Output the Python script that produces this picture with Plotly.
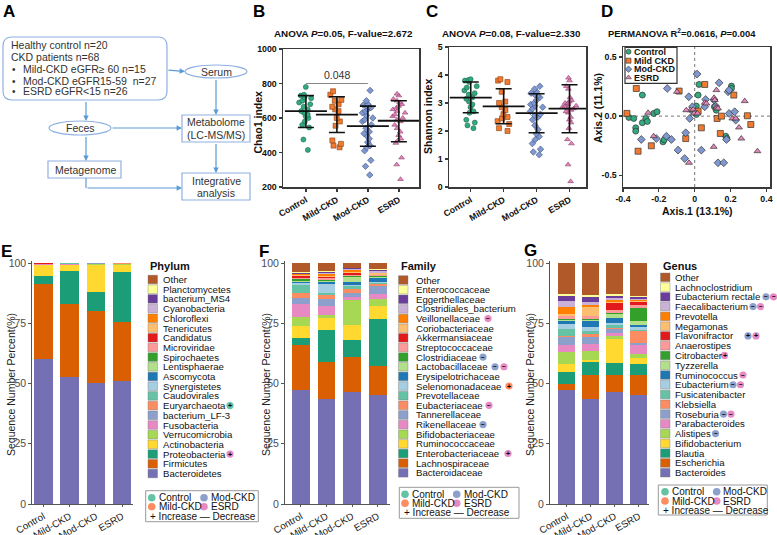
import plotly.graph_objects as go

W, H = 777, 535
FONT = "Liberation Sans, Arial, sans-serif"

groups = ["Control", "Mild-CKD", "Mod-CKD", "ESRD"]
grp_colors = ["#33a97f", "#f07a30", "#7f98cf", "#e585bb"]
grp_lines = ["#1d6b4f", "#8a3f10", "#3d4f80", "#8a3d68"]
grp_symbols = ["circle", "square", "diamond", "triangle-up"]
legend_grp_colors = ["#66c2a5", "#fc8d62", "#8da0cb", "#e78ac3"]

# ---- Panel B: Chao1 ----
chao1_control = [780, 735, 730, 720, 715, 700, 690, 680, 665, 650, 640, 630, 620, 610, 600, 580, 560, 545, 475, 415]
chao1_mild = [755, 735, 705, 700, 680, 665, 650, 640, 600, 580, 555, 470, 450, 440, 430]
chao1_mod = [760, 700, 680, 675, 670, 665, 660, 650, 640, 630, 615, 600, 590, 580, 560, 540, 520, 510, 500, 480,
             460, 440, 430, 410, 355, 320, 270]
chao1_esrd = [740, 730, 710, 700, 690, 680, 670, 660, 650, 640, 630, 620, 610, 600, 590, 580, 560, 540, 520, 500,
              480, 470, 455, 370, 330, 245]
chao1_mean = [640, 620, 553, 584]
chao1_sd_lo = [545, 516, 436, 462]
chao1_sd_hi = [730, 723, 669, 700]

# ---- Panel C: Shannon ----
shannon_control = [3.85, 3.82, 3.8, 3.75, 3.6, 3.55, 3.45, 3.35, 3.3, 3.2, 3.15, 3.05, 2.95, 2.85, 2.7, 2.65, 2.4, 2.3,
                   2.2, 2.1]
shannon_mild = [3.85, 3.8, 3.75, 3.4, 3.05, 3.0, 2.85, 2.75, 2.6, 2.5, 2.45, 2.35, 2.25, 2.1, 2.0]
shannon_mod = [3.6, 3.5, 3.4, 3.35, 3.3, 3.25, 3.2, 3.1, 3.0, 2.95, 2.9, 2.85, 2.8, 2.7, 2.6, 2.55, 2.5, 2.4, 2.2, 2.05,
               1.9, 1.8, 1.7, 1.55, 1.35, 1.25, 1.15]
shannon_esrd = [3.9, 3.8, 3.6, 3.5, 3.2, 3.1, 3.05, 3.0, 3.0, 2.95, 2.9, 2.9, 2.85, 2.8, 2.8, 2.75, 2.7, 2.65, 2.5, 2.4,
                2.3, 2.1, 1.7, 1.55, 0.8, 0.2]
shannon_mean = [3.19, 2.88, 2.64, 2.80]
shannon_sd_lo = [2.65, 2.26, 1.94, 1.94]
shannon_sd_hi = [3.75, 3.51, 3.33, 3.65]

# ---- Panel D: PCoA ----
pcoa_control_x = [-0.367, -0.34, -0.329, -0.329, -0.292, -0.273, -0.264, -0.229, -0.21, -0.292, -0.177, -0.17, 0.009,
                  0.009, 0.019, 0.024, 0.11, 0.12, 0.173, 0.205, 0.205, 0.18]
pcoa_control_y = [-0.011, -0.02, -0.099, -0.127, -0.056, -0.02, -0.045, 0.023, 0.037, 0.178, -0.218, -0.2, 0.014,
                  0.085, 0.178, 0.268, 0.079, 0.05, -0.17, 0.254, 0.234, -0.19]
pcoa_mild_x = [-0.378, -0.326, -0.316, -0.242, -0.087, -0.05, 0.019, 0.037, 0.056, 0.125, 0.143, 0.149, 0.218, 0.294,
               0.313]
pcoa_mild_y = [0.023, 0.234, -0.297, -0.251, 0.212, -0.19, 0.042, -0.099, 0.268, -0.02, -0.147, 0.0, 0.178, 0.003,
               -0.071]
pcoa_mod_x = [-0.298, -0.214, -0.153, -0.158, -0.13, -0.093, -0.056, -0.033, -0.028, -0.05, -0.013, -0.009, 0.013,
              0.037, 0.056, 0.061, 0.108, 0.117, 0.13, 0.136, 0.162, 0.177, 0.186, 0.192, 0.192, 0.223, 0.229]
pcoa_mod_y = [-0.198, -0.19, 0.234, -0.17, -0.198, -0.288, -0.359, 0.164, -0.02, -0.141, 0.079, 0.037, 0.356, -0.288,
              0.079, 0.141, 0.136, 0.085, -0.395, 0.282, -0.395, -0.198, 0.206, 0.22, 0.023, 0.037, -0.034]
pcoa_esrd_x = [-0.26, -0.229, -0.099, -0.032, -0.024, -0.009, -0.004, 0.015, 0.056, 0.106, 0.108, 0.112, 0.121, 0.121,
               0.121, 0.13, 0.21, 0.229, 0.247, 0.26, 0.279, 0.35, -0.047, 0.065]
pcoa_esrd_y = [0.028, -0.17, 0.206, -0.395, 0.05, 0.056, 0.023, 0.023, 0.113, -0.26, 0.155, 0.136, 0.22, 0.079, 0.065,
               0.065, -0.02, -0.02, -0.096, -0.19, 0.127, -0.297, 0.05, 0.107]

# ---- Panels E/F/G: composition (bottom -> top) ----
palette = ['#7570b3', '#d95f02', '#1b9e77', '#ffd92f', '#a6d854', '#e78ac3', '#8da0cb', '#fc8d62', '#66c2a5',
           '#a6cee3', '#1f78b4', '#b2df8a', '#33a02c', '#fb9a99', '#e31a1c', '#fdbf6f', '#ff7f00', '#cab2d6',
           '#6a3d9a', '#ffff99', '#b15928']

phylum_names = ["Bacteroidetes", "Firmicutes", "Proteobacteria", "Actinobacteria", "Verrucomicrobia", "Fusobacteria",
                "bacterium_LF-3", "Euryarchaeota", "Caudovirales", "Synergistetes", "Ascomycota", "Lentisphaerae",
                "Spirochaetes", "Microviridae", "Candidatus", "Tenericutes", "Chloroflexi", "Cyanobacteria",
                "bacterium_MS4", "Planctomycetes", "Other"]
phylum_control = [60.1, 31.0, 3.7, 4.2, 0.25, 0.2, 0.1, 0.08, 0.05, 0.02, 0.02, 0.02, 0.02, 0.02, 0.02, 0.03, 0.02,
                  0.1, 0.03, 0.01, 0.05]
phylum_mild = [52.6, 30.4, 13.5, 2.6, 0.1, 0.5, 0.05, 0.03, 0.02, 0.02, 0.02, 0.02, 0.02, 0.02, 0.02, 0.02, 0.02, 0.1,
               0.03, 0.01, 0.05]
phylum_mod = [50.4, 29.5, 7.9, 11.2, 0.6, 0.15, 0.05, 0.02, 0.02, 0.02, 0.02, 0.02, 0.02, 0.02, 0.02, 0.02, 0.02, 0.05,
              0.02, 0.01, 0.05]
phylum_esrd = [51.1, 24.6, 20.5, 3.1, 0.1, 0.3, 0.05, 0.05, 0.02, 0.02, 0.02, 0.02, 0.02, 0.02, 0.02, 0.02, 0.02, 0.1,
               0.03, 0.01, 0.05]

family_names = ["Bacteroidaceae", "Lachnospiraceae", "Enterobacteriaceae", "Ruminococcaceae", "Bifidobacteriaceae",
                "Rikenellaceae", "Tannerellaceae", "Eubacteriaceae", "Prevotellaceae", "Selenomonadaceae",
                "Erysipelotrichaceae", "Lactobacillaceae", "Clostridiaceae", "Streptococcaceae", "Akkermansiaceae",
                "Coriobacteriaceae", "Veillonellaceae", "Clostridiales_bacterium", "Eggerthellaceae",
                "Enterococcaceae", "Other"]
family_control = [47.5, 18.4, 3.0, 5.0, 3.6, 5.3, 2.5, 2.2, 3.3, 0.7, 0.8, 0.4, 0.7, 0.5, 0.7, 0.4, 0.3, 0.3, 0.3, 0.2,
                  3.9]
family_mild = [43.5, 15.5, 13.0, 5.2, 1.2, 3.6, 3.2, 1.4, 1.0, 3.8, 0.8, 0.4, 0.5, 0.6, 0.6, 0.5, 0.5, 0.5, 0.6, 0.3,
               3.3]
family_mod = [46.5, 14.3, 7.2, 6.2, 10.6, 1.1, 1.7, 1.8, 0.9, 0.5, 1.3, 2.0, 0.4, 0.4, 1.0, 0.4, 0.9, 0.4, 0.3, 0.2,
              1.9]
family_esrd = [45.2, 12.0, 19.7, 5.1, 3.0, 2.0, 3.3, 1.1, 0.4, 0.4, 1.7, 0.3, 0.3, 0.5, 0.2, 0.5, 0.3, 0.6, 0.4, 0.4,
               2.6]

genus_names = ["Bacteroides", "Escherichia", "Blautia", "Bifidobacterium", "Alistipes", "Parabacteroides", "Roseburia",
               "Klebsiella", "Fusicatenibacter", "Eubacterium", "Ruminococcus", "Tyzzerella", "Citrobacter",
               "Anaerostipes", "Flavonifractor", "Megamonas", "Prevotella", "Faecalibacterium", "Eubacterium rectale",
               "Lachnoclostridium", "Other"]
genus_control = [47.5, 2.2, 5.1, 3.4, 4.8, 2.8, 3.4, 0.7, 2.8, 2.1, 1.1, 0.5, 0.3, 1.1, 0.3, 0.8, 2.8, 2.4, 2.4, 0.7,
                 12.8]
genus_mild = [43.5, 10.0, 5.4, 1.0, 3.5, 3.1, 2.7, 1.4, 1.1, 1.7, 2.5, 0.5, 0.3, 1.1, 0.4, 3.5, 0.9, 1.1, 2.1, 1.0,
              13.2]
genus_mod = [46.5, 6.9, 5.1, 10.1, 1.0, 1.5, 1.4, 0.5, 1.4, 0.8, 2.0, 1.8, 0.3, 1.0, 3.0, 0.7, 0.7, 0.7, 0.8, 1.0,
             12.8]
genus_esrd = [45.1, 8.3, 4.5, 2.5, 2.0, 3.5, 0.8, 4.9, 0.8, 1.0, 0.9, 1.8, 5.2, 1.1, 1.6, 0.3, 0.3, 0.5, 0.6, 0.8,
              13.5]

# significance markers: (legend row from top, x pixel, group index, sign)
phylum_sig = [(13, 230, 0, "+"), (18, 230, 3, "+")]
family_sig = [(4, 488, 3, "−"), (8, 483, 2, "−"), (9, 495, 2, "−"), (9, 504, 3, "−"), (11, 509, 1, "+"),
              (13, 489, 3, "−"), (15, 483, 2, "−"), (18, 508, 3, "+")]
genus_sig = [(2, 766, 2, "−"), (2, 773.5, 3, "−"), (3, 753, 2, "−"), (3, 760.5, 3, "−"), (6, 748, 2, "+"),
             (6, 756, 3, "+"), (8, 724.5, 3, "+"), (10, 743, 3, "−"), (11, 733, 2, "−"), (11, 740.5, 3, "−"),
             (14, 723.5, 2, "−"), (14, 731, 3, "−"), (16, 715.5, 2, "−")]


def dx(a, b):
    return [a / W, b / W]


def dy(top, bottom):
    return [1 - bottom / H, 1 - top / H]


fig = go.Figure()
annotations = []
shapes = []


def txt(x, y, s, size=10, anchor="left", color="#222", angle=0, yanchor="middle", weight="normal"):
    annotations.append(dict(x=x, y=y, xref="x9", yref="y9", text=s, showarrow=False, xanchor=anchor,
                            yanchor=yanchor, textangle=angle,
                            font=dict(size=size, family=FONT, color=color, weight=weight)))


# ---------------- Panel A: flowchart ----------------
BOXC = "#8fb0e0"
ARC = "#5b9bd5"


def rrect(x0, y0, x1, y1, r):
    p = (f"M{x0 + r},{y0} L{x1 - r},{y0} Q{x1},{y0} {x1},{y0 + r} L{x1},{y1 - r} Q{x1},{y1} {x1 - r},{y1} "
         f"L{x0 + r},{y1} Q{x0},{y1} {x0},{y1 - r} L{x0},{y0 + r} Q{x0},{y0} {x0 + r},{y0} Z")
    shapes.append(dict(type="path", path=p, xref="x9", yref="y9", line=dict(color=BOXC, width=1.2)))


rrect(3, 37, 167, 100, 9)
shapes.append(dict(type="circle", xref="x9", yref="y9", x0=185, x1=247, y0=65, y1=78, line=dict(color=BOXC, width=1.2)))
shapes.append(dict(type="circle", xref="x9", yref="y9", x0=49, x1=111, y0=121, y1=135, line=dict(color=BOXC, width=1.2)))
for (x0, y0, x1, y1) in [(182, 115, 250, 142), (48, 161, 121, 178), (182, 173, 250, 200)]:
    shapes.append(dict(type="rect", xref="x9", yref="y9", x0=x0, x1=x1, y0=y0, y1=y1, line=dict(color=BOXC, width=1.2)))
shapes.append(dict(type="line", xref="x9", yref="y9", x0=86, x1=86, y0=178, y1=188, line=dict(color=ARC, width=1.2)))


def arrow(tx, ty, hx, hy):
    annotations.append(dict(x=hx, y=hy, ax=tx, ay=ty, xref="x9", yref="y9", axref="x9", ayref="y9", text=" ",
                            showarrow=True, arrowhead=2, arrowsize=0.9, arrowwidth=1.2, arrowcolor=ARC, standoff=0,
                            font=dict(size=1)))


arrow(167, 70, 185, 71.5)
arrow(216, 78, 216, 115)
arrow(86, 100, 86, 121)
arrow(111, 128, 182, 128)
arrow(86, 135, 86, 161)
arrow(86, 188, 182, 188)
arrow(216, 142, 216, 173)

txt(9, 45, "Healthy control n=20", 10.5, color="#333")
txt(9, 57, "CKD patients n=68", 10.5, color="#333")
for yy, s in [(69, "Mild-CKD eGFR≥ 60 n=15"), (81, "Mod-CKD eGFR15-59\u00a0\u00a0n=27"), (91, "ESRD eGFR&lt;15 n=26")]:
    txt(10, yy, "•", 10, color="#333")
    txt(21, yy, s, 10.5, color="#333")
txt(216, 71.5, "Serum", 10.5, "center", "#333")
txt(80, 128, "Feces", 10.5, "center", "#333")
txt(216, 122, "Metabolome", 10.5, "center", "#333")
txt(216, 135, "(LC-MS/MS)", 10.5, "center", "#333")
txt(85, 169.5, "Metagenome", 10.5, "center", "#333")
txt(216, 181, "Integrative", 10.5, "center", "#333")
txt(216, 193, "analysis", 10.5, "center", "#333")

# panel letters
for (lx, ly, L) in [(9, 11, "A"), (259, 11, "B"), (432, 11, "C"), (607, 11, "D"), (6, 251, "E"), (264, 251, "F"),
                    (530, 250, "G")]:
    txt(lx, ly, L, 17, "center", "#000", weight="bold")

# ---------------- Panels B and C ----------------
def dot_panel(ax, datasets, means, lo, hi):
    for i, vals in enumerate(datasets):
        fig.add_trace(go.Box(x=[groups[i]] * len(vals), y=vals, xaxis="x" + ax, yaxis="y" + ax,
                             boxpoints="all", jitter=1.0, pointpos=0, width=0.45,
                             fillcolor="rgba(0,0,0,0)", line=dict(width=0, color="rgba(0,0,0,0)"),
                             marker=dict(color=grp_colors[i], symbol=grp_symbols[i], size=5,
                                         line=dict(width=0.6, color=grp_lines[i])),
                             showlegend=False, hoverinfo="skip"))
    fig.add_trace(go.Scatter(x=groups, y=means, mode="markers", xaxis="x" + ax, yaxis="y" + ax,
                             marker=dict(symbol="line-ew", size=30, line=dict(width=1.8, color="#111")),
                             error_y=dict(type="data", symmetric=False,
                                          array=[h - m for h, m in zip(hi, means)],
                                          arrayminus=[m - l for m, l in zip(means, lo)],
                                          width=8, thickness=1.6, color="#111"),
                             showlegend=False, hoverinfo="skip"))


dot_panel("2", [chao1_control, chao1_mild, chao1_mod, chao1_esrd], chao1_mean, chao1_sd_lo, chao1_sd_hi)
dot_panel("3", [shannon_control, shannon_mild, shannon_mod, shannon_esrd], shannon_mean, shannon_sd_lo, shannon_sd_hi)

shapes.append(dict(type="line", xref="x2", yref="y2", x0=0, x1=2, y0=800, y1=800, line=dict(color="#888", width=1)))
annotations.append(dict(x=1, y=800, xref="x2", yref="y2", text="0.048", showarrow=False, yanchor="bottom", yshift=1,
                        font=dict(size=10.5, family=FONT, color="#333")))

txt(343, 33, "ANOVA <i>P</i>=0.05, F-value=2.672", 9.8, "center", "#111", weight="bold")
txt(511, 33, "ANOVA <i>P</i>=0.08, F-value=2.330", 9.8, "center", "#111", weight="bold")
txt(682, 33, "PERMANOVA R<sup>2</sup>=0.0616, <i>P</i>=0.004", 9.4, "center", "#111", weight="bold")
txt(257.5, 122, "Chao1 index", 10.5, "center", "#111", angle=-90, weight="bold")
txt(428, 117, "Shannon index", 10.5, "center", "#111", angle=-90, weight="bold")
txt(598, 108, "Axis.2 (11.1%)", 10.5, "center", "#111", angle=-90, weight="bold")
txt(697, 211, "Axis.1 (13.1%)", 10.5, "center", "#111", weight="bold")

# ---------------- Panel D ----------------
pc_sets = [(pcoa_control_x, pcoa_control_y), (pcoa_mild_x, pcoa_mild_y), (pcoa_mod_x, pcoa_mod_y),
           (pcoa_esrd_x, pcoa_esrd_y)]
for i, (px, py) in enumerate(pc_sets):
    fig.add_trace(go.Scatter(x=px, y=py, mode="markers", xaxis="x4", yaxis="y4",
                             marker=dict(color=grp_colors[i], symbol=grp_symbols[i], size=6,
                                         line=dict(width=0.7, color="#333")),
                             showlegend=False, hoverinfo="skip"))
shapes.append(dict(type="line", xref="x4", yref="y4 domain", x0=0, x1=0, y0=0, y1=1,
                   line=dict(color="#777", width=1, dash="dot"), layer="below"))
shapes.append(dict(type="line", xref="x4 domain", yref="y4", x0=0, x1=1, y0=0, y1=0,
                   line=dict(color="#777", width=1, dash="dot"), layer="below"))
# D legend
d_labels = ["Control", "Mild CKD", "Mod-CKD", "ESRD"]
d_rows = [51.7, 60.7, 69.2, 77.5]
shapes.append(dict(type="rect", xref="x9", yref="y9", x0=625, x1=677, y0=47.3, y1=83.3,
                   line=dict(color="#333", width=1.2), fillcolor="white", layer="below"))
fig.add_trace(go.Scatter(x=[628.5] * 4, y=d_rows, mode="markers", xaxis="x9", yaxis="y9",
                         marker=dict(color=grp_colors, symbol=grp_symbols, size=5, line=dict(width=0.6, color="#333")),
                         showlegend=False, hoverinfo="skip"))
for r, lab in zip(d_rows, d_labels):
    txt(631.5, r, lab, 9, "left", "#111", weight="bold")

# ---------------- Panels E/F/G ----------------
comp = [
    ("5", phylum_names, [phylum_control, phylum_mild, phylum_mod, phylum_esrd], "Phylum", 148, 160.5, 279.5, 9.7,
     phylum_sig, 11, (145.7, 490.7, 258.3, 521.7), 151.7, 204, 156.5, 209, [497.7, 506.7, 516]),
    ("6", family_names, [family_control, family_mild, family_mod, family_esrd], "Family", 398.5, 413.5, 280, 9.64,
     family_sig, 266, (399.3, 487.3, 519, 518.3), 405, 456.7, 410, 461.5, [494.3, 503.3, 512.7]),
    ("7", genus_names, [genus_control, genus_mild, genus_mod, genus_esrd], "Genus", 660.5, 673, 277.3, 9.77,
     genus_sig, 530, (658.3, 485, 767.3, 515), 665, 716.7, 669.5, 721, [491.7, 501, 510]),
]
for (ax, names, vals, title, swx, tx, ry0, rdy, sigs, ytx, box, c1x, c2x, t1x, t2x, rows) in comp:
    n = len(names)
    for i in range(n):
        fig.add_trace(go.Bar(x=groups, y=[v[i] for v in vals], xaxis="x" + ax, yaxis="y" + ax,
                             marker=dict(color=palette[i], line=dict(width=0)), width=0.7,
                             showlegend=False, hoverinfo="skip"))
    # legend
    txt(swx, 266, title, 11, "left", "#111", weight="bold")
    for k in range(n):
        idx = n - 1 - k
        yy = ry0 + k * rdy
        shapes.append(dict(type="rect", xref="x9", yref="y9", x0=swx, x1=swx + 9.5, y0=yy - 4.3, y1=yy + 4.3,
                           fillcolor=palette[idx], line=dict(width=0.4, color="#777")))
        txt(tx, yy, names[idx], 9.6, "left", "#111")
    for (row, sx, g, sign) in sigs:
        yy = ry0 + row * rdy
        shapes.append(dict(type="circle", xref="x9", yref="y9", x0=sx - 3.6, x1=sx + 3.6, y0=yy - 3.6, y1=yy + 3.6,
                           fillcolor=legend_grp_colors[g], line=dict(width=0)))
        txt(sx, yy, sign, 7 if sign == "+" else 6.5, "center", "#000", weight="bold")
    # group legend box
    bx0, by0, bx1, by1 = box
    shapes.append(dict(type="rect", xref="x9", yref="y9", x0=bx0, x1=bx1, y0=by0, y1=by1,
                       line=dict(color="#999", width=1)))
    for (cx, ty, lab, g) in [(c1x, rows[0], "Control", 0), (c2x, rows[0], "Mod-CKD", 2), (c1x, rows[1], "Mild-CKD", 1),
                             (c2x, rows[1], "ESRD", 3)]:
        shapes.append(dict(type="circle", xref="x9", yref="y9", x0=cx - 3.8, x1=cx + 3.8, y0=ty - 3.8, y1=ty + 3.8,
                           fillcolor=legend_grp_colors[g], line=dict(width=0)))
        txt(t1x if cx == c1x else t2x, ty, lab, 10, "left", "#111")
    txt(bx0 + 2.5, rows[2], "+ Increase — Decrease", 10, "left", "#111")
    # y title
    txt(ytx, 385, "Sequence Number Percent(%)", 10.5, "center", "#222", angle=-90)

# ---------------- Layout ----------------
dot_axis = dict(showline=True, mirror=True, linecolor="#3a3a3a", linewidth=1.5, ticks="outside", ticklen=3,
                tickwidth=1.3, tickcolor="#3a3a3a", showgrid=False, zeroline=False, automargin=False,
                tickfont=dict(size=8.8, family=FONT, color="#111", weight="bold"))
bar_y = dict(showline=True, linecolor="#555", linewidth=1, ticks="outside", ticklen=3, tickcolor="#555",
             showgrid=False, zeroline=False, range=[0, 101], tickvals=[0, 25, 50, 75, 100], automargin=False,
             tickfont=dict(size=10.5, family=FONT, color="#4d4d4d"))
bar_x = dict(showline=True, linecolor="#555", linewidth=1, ticks="outside", ticklen=2, tickcolor="#555",
             showgrid=False, zeroline=False, type="category", categoryorder="array", categoryarray=groups,
             tickangle=-30, automargin=False, tickfont=dict(size=9.8, family=FONT, color="#222"))
ytop, ybot = 504 - 101 * 2.41, 504

fig.update_layout(
    width=W, height=H, margin=dict(l=0, r=0, t=0, b=0, pad=0, autoexpand=False), autosize=False,
    paper_bgcolor="white", plot_bgcolor="rgba(0,0,0,0)", barmode="stack", boxmode="overlay",
    hovermode=False, showlegend=False, font=dict(family=FONT),
    xaxis2=dict(dot_axis, domain=dx(283, 419), anchor="y2", type="category", categoryorder="array",
                categoryarray=groups, range=[-0.74, 3.65], tickangle=-30),
    yaxis2=dict(dot_axis, domain=dy(49, 187), anchor="x2", range=[200, 1000], tickvals=[200, 400, 600, 800, 1000]),
    xaxis3=dict(dot_axis, domain=dx(449, 586), anchor="y3", type="category", categoryorder="array",
                categoryarray=groups, range=[-0.66, 3.5], tickangle=-30),
    yaxis3=dict(dot_axis, domain=dy(47, 187), anchor="x3", range=[0, 5], tickvals=[0, 1, 2, 3, 4, 5]),
    xaxis4=dict(dot_axis, domain=dx(623, 770), anchor="y4", range=[-0.4, 0.42], tickvals=[-0.4, -0.2, 0, 0.2, 0.4],
                ticktext=["-0.4", "-0.2", "0", "0.2", "0.4"]),
    yaxis4=dict(dot_axis, domain=dy(47, 187), anchor="x4", range=[-0.6, 0.585], tickvals=[-0.5, 0, 0.5],
                ticktext=["-0.5", "0.0", "0.5"]),
    xaxis5=dict(bar_x, domain=dx(32.3, 133.3), anchor="y5", range=[-0.42, 3.42]),
    yaxis5=dict(bar_y, domain=dy(ytop, ybot), anchor="x5"),
    xaxis6=dict(bar_x, domain=dx(285, 390), anchor="y6", range=[-0.62, 3.48]),
    yaxis6=dict(bar_y, domain=dy(ytop, ybot), anchor="x6"),
    xaxis7=dict(bar_x, domain=dx(550, 649), anchor="y7", range=[-0.69, 3.42]),
    yaxis7=dict(bar_y, domain=dy(ytop, ybot), anchor="x7"),
    xaxis9=dict(domain=[0, 1], range=[0, W], visible=False, anchor="y9", fixedrange=True, automargin=False),
    yaxis9=dict(domain=[0, 1], range=[H, 0], visible=False, anchor="x9", fixedrange=True, automargin=False),
    shapes=shapes, annotations=annotations,
)

fig.write_html("out.html", config={"displayModeBar": False, "staticPlot": True},
               post_script="document.body.style.margin='0';")
